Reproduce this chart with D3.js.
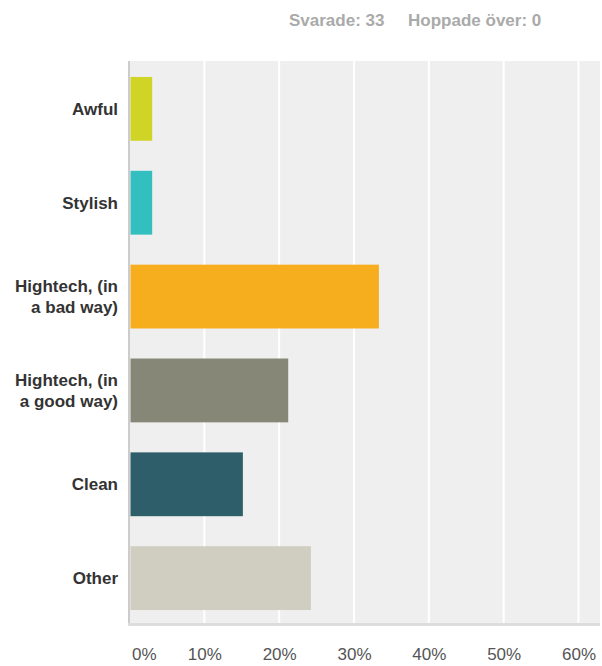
<!DOCTYPE html>
<html>
<head>
<meta charset="utf-8">
<script src="https://cdnjs.cloudflare.com/ajax/libs/d3/7.8.5/d3.min.js"></script>
<style>
  body { margin: 0; background: #ffffff; }
  svg { display: block; font-family: "Liberation Sans", Arial, sans-serif; }
</style>
</head>
<body>
<script>
// survey answers, 33 respondents
var categories = ["Awful", "Stylish", "Hightech, (in a bad way)", "Hightech, (in a good way)", "Clean", "Other"];
var labelLines = [["Awful"], ["Stylish"], ["Hightech, (in", "a bad way)"], ["Hightech, (in", "a good way)"], ["Clean"], ["Other"]];
var percents = [3.03, 3.03, 33.33, 21.21, 15.15, 24.24];
var barColors = ["#d0d426", "#33bfbf", "#f6ae1f", "#868776", "#2d5e6a", "#d0cec0"];
var xTicks = [0, 10, 20, 30, 40, 50, 60];
var headerText = "Svarade: 33\u00a0\u00a0\u00a0\u00a0 Hoppade över: 0";

var width = 602, height = 666;
var margin = {top: 61, right: 2, bottom: 43, left: 130};

var svg = d3.select("body").append("svg")
    .attr("width", width)
    .attr("height", height);

// header
svg.append("text")
    .attr("x", 289)
    .attr("y", 26)
    .style("font-size", "17px")
    .style("font-weight", "bold")
    .style("fill", "#aaaaaa")
    .text(headerText);

var x = d3.scaleLinear()
    .domain([0, 60])
    .range([margin.left - 0.5, 578.5]);

var y = d3.scaleBand()
    .domain(categories)
    .range([margin.top, height - margin.bottom + 3])
    .paddingInner(0.32)
    .paddingOuter(0.17);

// plot background
svg.append("rect")
    .attr("x", margin.left)
    .attr("y", margin.top)
    .attr("width", width - margin.right - margin.left)
    .attr("height", height - margin.bottom - margin.top)
    .style("fill", "#efefef");

// white gridlines
svg.selectAll(".grid")
    .data(xTicks.slice(1))
    .enter().append("line")
    .attr("class", "grid")
    .attr("x1", function(d) { return x(d); })
    .attr("x2", function(d) { return x(d); })
    .attr("y1", margin.top)
    .attr("y2", height - margin.bottom)
    .style("stroke", "#ffffff")
    .style("stroke-width", 2);

// bars
svg.selectAll(".bar")
    .data(categories)
    .enter().append("rect")
    .attr("class", "bar")
    .attr("x", x(0) + 1)
    .attr("y", function(d) { return y(d); })
    .attr("width", function(d, i) { return x(percents[i]) - x(0) - 1; })
    .attr("height", y.bandwidth())
    .style("fill", function(d, i) { return barColors[i]; });

// left and bottom axis lines
svg.append("line")
    .attr("x1", margin.left - 1).attr("x2", margin.left - 1)
    .attr("y1", margin.top).attr("y2", height - margin.bottom + 2)
    .style("stroke", "#cccccc")
    .style("stroke-width", 2);

svg.append("line")
    .attr("x1", margin.left - 2).attr("x2", width - margin.right)
    .attr("y1", height - margin.bottom + 1.5).attr("y2", height - margin.bottom + 1.5)
    .style("stroke", "#dddddd")
    .style("stroke-width", 3);

// category labels
var labels = svg.selectAll(".cat")
    .data(categories)
    .enter().append("text")
    .attr("class", "cat")
    .attr("text-anchor", "end")
    .style("font-size", "17px")
    .style("font-weight", "bold")
    .style("fill", "#333333")
    .attr("transform", function(d) {
        return "translate(118," + (y(d) + y.bandwidth() / 2) + ")";
    });

labels.each(function(d, i) {
    var lines = labelLines[i];
    var sel = d3.select(this);
    lines.forEach(function(t, j) {
        sel.append("tspan")
            .attr("x", 0)
            .attr("y", (j - (lines.length - 1) / 2) * 21 + 6)
            .text(t);
    });
});

// x axis tick labels
var xAxis = svg.append("g")
    .attr("transform", "translate(0," + (height - margin.bottom + 3) + ")")
    .call(d3.axisBottom(x)
        .tickValues(xTicks)
        .tickSize(0)
        .tickPadding(22)
        .tickFormat(function(d) { return d + "%"; }));

xAxis.select(".domain").remove();
xAxis.selectAll("text")
    .style("font-size", "17px")
    .style("font-family", "'Liberation Sans', Arial, sans-serif")
    .style("fill", "#555555")
    .attr("text-anchor", function(d) { return d === 0 ? "start" : "middle"; })
    .attr("dx", function(d) { return d === 0 ? 2 : 0; });
</script>
</body>
</html>
